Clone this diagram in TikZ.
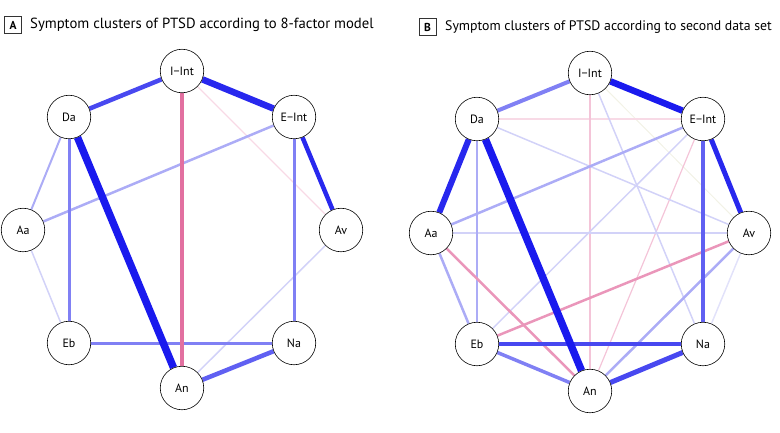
\documentclass[tikz,border=0pt]{standalone}
\usepackage{fontspec}
\setmainfont{PT Sans}
\usetikzlibrary{backgrounds}
\begin{document}
\begin{tikzpicture}[x=1pt,y=-1pt,
  sym/.style={circle,draw=black,line width=0.6pt,fill=white,minimum size=43.5pt,inner sep=0pt,font=\fontsize{12}{13}\selectfont},
  panelbox/.style={draw=black!80,line width=0.7pt,minimum size=17pt,inner sep=0pt,font=\fontsize{11.5}{12}\selectfont\bfseries},
  paneltitle/.style={anchor=west,inner sep=0pt,font=\fontsize{14}{16}\selectfont},
  edge/.style={line cap=butt}]
\useasboundingbox (0,0) rectangle (780,432);
\definecolor{b1}{RGB}{26,26,238}
\definecolor{b2}{RGB}{40,40,238}
\definecolor{b3}{RGB}{72,72,240}
\definecolor{b4}{RGB}{96,96,242}
\definecolor{b5}{RGB}{128,128,244}
\definecolor{b6}{RGB}{172,172,246}
\definecolor{b7}{RGB}{210,210,248}
\definecolor{b8}{RGB}{226,226,250}
\definecolor{p1}{RGB}{226,112,160}
\definecolor{p2}{RGB}{234,150,186}
\definecolor{p3}{RGB}{244,196,216}
\definecolor{p4}{RGB}{248,218,230}
\definecolor{y1}{RGB}{242,242,230}

% Panel titles
\node[panelbox] (boxA) at (13,25) {A};
\node[paneltitle,font=\fontsize{14.7}{16}\selectfont] (titleA) at (30,25) {Symptom clusters of PTSD according to 8-factor model};
\node[panelbox] (boxB) at (427.5,27) {B};
\node[paneltitle,font=\fontsize{13.8}{16}\selectfont] (titleB) at (445,27) {Symptom clusters of PTSD according to second data set};

% Panel A nodes
\node[sym] (aI) at (182,71) {I−Int};
\node[sym] (aDa) at (69,117) {Da};
\node[sym] (aE) at (294,117) {E−Int};
\node[sym] (aAa) at (23,230) {Aa};
\node[sym] (aAv) at (341,230) {Av};
\node[sym] (aEb) at (69,343) {Eb};
\node[sym] (aNa) at (294,343) {Na};
\node[sym] (aAn) at (182,388) {An};

% Panel B nodes
\node[sym] (bI) at (590,73) {I−Int};
\node[sym] (bDa) at (477,119) {Da};
\node[sym] (bE) at (703,119) {E−Int};
\node[sym] (bAa) at (431,233) {Aa};
\node[sym] (bAv) at (749,233) {Av};
\node[sym] (bEb) at (477,344) {Eb};
\node[sym] (bNa) at (703,344) {Na};
\node[sym] (bAn) at (590,391) {An};

\begin{scope}[on background layer]
% Panel A edges
\draw[edge,line width=1.2pt,p4] (aI) -- (aAv);
\draw[edge,line width=1.5pt,b7] (aAa) -- (aEb);
\draw[edge,line width=1.5pt,b7] (aAn) -- (aAv);
\draw[edge,line width=2pt,b6] (aDa) -- (aAa);
\draw[edge,line width=2.5pt,b6] (aE) -- (aAa);
\draw[edge,line width=3pt,b5] (aDa) -- (aEb);
\draw[edge,line width=3pt,b5] (aE) -- (aNa);
\draw[edge,line width=3pt,b5] (aEb) -- (aNa);
\draw[edge,line width=3.5pt,p1] (aI) -- (aAn);
\draw[edge,line width=4.5pt,b3] (aDa) -- (aI);
\draw[edge,line width=4.5pt,b2] (aE) -- (aAv);
\draw[edge,line width=4.5pt,b4] (aAn) -- (aNa);
\draw[edge,line width=6.5pt,b2] (aI) -- (aE);
\draw[edge,line width=7.5pt,b1] (aDa) -- (aAn);

% Panel B edges
\draw[edge,line width=1pt,y1] (bI) -- (bAv);
\draw[edge,line width=1.2pt,p4] (bDa) -- (bE);
\draw[edge,line width=1.2pt,p3] (bE) -- (bAn);
\draw[edge,line width=1.5pt,p3] (bI) -- (bAn);
\draw[edge,line width=1.5pt,b8] (bAv) -- (bNa);
\draw[edge,line width=1.5pt,b7] (bE) -- (bEb);
\draw[edge,line width=1.5pt,b7] (bI) -- (bNa);
\draw[edge,line width=1.5pt,b7] (bDa) -- (bAv);
\draw[edge,line width=2pt,b7] (bAa) -- (bAv);
\draw[edge,line width=2.5pt,b6] (bE) -- (bAa);
\draw[edge,line width=2.5pt,b6] (bDa) -- (bEb);
\draw[edge,line width=2.5pt,b6] (bAa) -- (bEb);
\draw[edge,line width=2.5pt,b6] (bAv) -- (bAn);
\draw[edge,line width=2.5pt,p2] (bAv) -- (bEb);
\draw[edge,line width=2.5pt,p2] (bAa) -- (bAn);
\draw[edge,line width=3.5pt,b5] (bEb) -- (bAn);
\draw[edge,line width=4pt,b5] (bDa) -- (bI);
\draw[edge,line width=4pt,b4] (bE) -- (bNa);
\draw[edge,line width=4.5pt,b3] (bEb) -- (bNa);
\draw[edge,line width=5pt,b3] (bAn) -- (bNa);
\draw[edge,line width=5pt,b2] (bE) -- (bAv);
\draw[edge,line width=6pt,b2] (bDa) -- (bAa);
\draw[edge,line width=6.5pt,b1] (bI) -- (bE);
\draw[edge,line width=7.5pt,b1] (bDa) -- (bAn);
\end{scope}
\end{tikzpicture}
\end{document}
